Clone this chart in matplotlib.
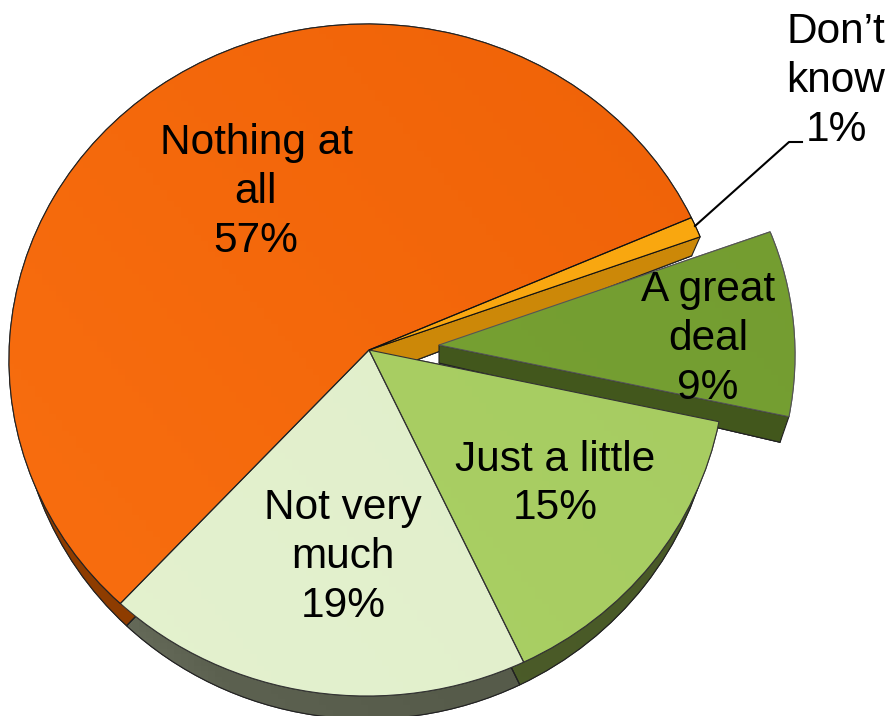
import numpy as np
import matplotlib
matplotlib.use("Agg")
import matplotlib.pyplot as plt
from matplotlib.colors import LinearSegmentedColormap
from matplotlib.patches import PathPatch
from matplotlib.path import Path

plt.rcParams["font.family"] = ["Liberation Sans", "DejaVu Sans"]

labels = ["A great\ndeal\n9%", "Just a little\n15%", "Not very\nmuch\n19%", "Nothing at\nall\n57%", "Don\u2019t\nknow\n1%"]
# printed shares are rounded, the slice angles fit these better
values = [9, 15, 19.5, 56.5, 1]
top_colors = [("#78a334", "#739c30"), ("#abd165", "#a5ca60"), ("#e4f2cf", "#dfecc8"), ("#f96f10", "#ee6006"), ("#fbaa12", "#f9a60f")]
side_colors = [("#42571c", "#42571c"), ("#4d5e2a", "#465625"),
               ("#858b7b", "#5c6150", "#565b4a", "#565b4a", "#565b4a", "#565b4a", "#565b4a"),
               ("#8f3d00", "#8a3a00"), ("#cc8808", "#c58206")]
edge_colors = ["#555555", "#333333", "#333333", "#222222", "#111111"]

START = 21.5
H = 716
APEX = (369, H - 350)
GREAT_APEX = (439, H - 345)
GREAT_SIDE_APEX = (439, H - 363)
SIDE_APEX = (369, H - 378)
# ellipse centres and radii, x then y
TOP = (367, H - 360, 358, 336)
SIDE = (367, H - 380, 349, 339)
GREAT_TOP = (437, H - 355, 358, 336)
GREAT_SIDE = (437, H - 380, 349, 339)
label_pos = [(708, 339), (555, 484), (343, 557), (256, 192), (836, 81)]

fig = plt.figure(figsize=(8.89, 7.16), dpi=100)
ax = fig.add_axes([0, 0, 1, 1])


def shade(patch, colors, z):
    # diagonal fill, clipped to the slice
    cmap = LinearSegmentedColormap.from_list("s", colors)
    xx, yy = np.meshgrid(np.linspace(0, 1, 128), np.linspace(0, 1, 128))
    ax.add_patch(patch)
    im = ax.imshow(xx * 0.6 + yy * 0.4, cmap=cmap, vmin=0, vmax=1, extent=(0, 889, 0, H),
                   origin="lower", aspect="auto", zorder=z)
    im.set_clip_path(patch)
    outline = PathPatch(patch.get_path(), transform=patch.get_transform(), facecolor="none",
                        edgecolor=patch.get_edgecolor(), linewidth=patch.get_linewidth(), zorder=z + 0.1)
    ax.add_patch(outline)


def slice_patch(wedge, ellipse, apex, edge):
    # pie wedge stretched onto the tilted ellipse, its tip moved to the apex
    cx, cy, rx, ry = ellipse
    src = wedge.get_path()
    u, v = src.vertices.T
    verts = np.column_stack([cx + rx * u, cy + ry * v])
    verts[np.isclose(u, 0) & np.isclose(v, 0)] = apex
    return PathPatch(Path(verts, src.codes), transform=ax.transData, edgecolor=edge, linewidth=0.8, facecolor="none")


def rim(angle, ellipse):
    cx, cy, rx, ry = ellipse
    a = np.deg2rad(angle)
    return cx + rx * np.cos(a), cy + ry * np.sin(a)


wedges, _ = ax.pie(values, startangle=START, counterclock=False)
end_great = START - 360 * values[0] / sum(values)

for i, w in enumerate(wedges):
    w.set_visible(False)
    if i == 0:
        shade(slice_patch(w, GREAT_SIDE, GREAT_SIDE_APEX, "#222222"), side_colors[i], 3)
        shade(slice_patch(w, GREAT_TOP, GREAT_APEX, edge_colors[i]), top_colors[i], 4)
    else:
        shade(slice_patch(w, SIDE, SIDE_APEX, "#222222"), side_colors[i], 1)
        shade(slice_patch(w, TOP, APEX, edge_colors[i]), top_colors[i], 5)

# cut face left open by the pulled out slice
x0, y0 = rim(START, TOP)
x1, y1 = rim(START, SIDE)
ax.fill([APEX[0], x0, x1, SIDE_APEX[0]], [APEX[1], y0, y1, SIDE_APEX[1]],
        facecolor=side_colors[4][0], edgecolor="#222222", linewidth=0.8, zorder=2)

# cut face of the pulled out slice
x0, y0 = rim(end_great, GREAT_TOP)
x1, y1 = rim(end_great, GREAT_SIDE)
ax.fill([GREAT_APEX[0], x0, x1, GREAT_SIDE_APEX[0]], [GREAT_APEX[1], y0, y1, GREAT_SIDE_APEX[1]],
        facecolor=side_colors[0][0], edgecolor="#222222", linewidth=0.8, zorder=3.5)

ax.plot([695, 789, 802], [H - 226, H - 142, H - 142], color="black", lw=1.5, zorder=6)

for text, (x, y) in zip(labels, label_pos):
    ax.text(x, H - y, text, ha="center", va="center", fontsize=30.5, linespacing=1.28, color="black", zorder=7)

ax.set_aspect("auto")
ax.set_xlim(0, 889)
ax.set_ylim(0, H)
ax.axis("off")
fig.savefig("out.png", dpi=100)
